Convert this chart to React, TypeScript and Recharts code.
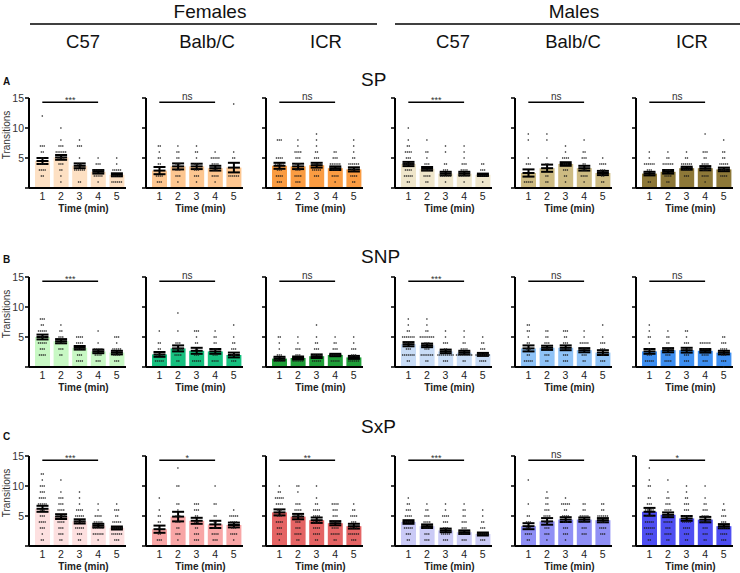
import React from 'react';
import { ComposedChart, Bar, ErrorBar, Scatter, XAxis, YAxis, ReferenceLine, Label } from 'recharts';

const timeLabels = ['1', '2', '3', '4', '5'];
const sexLabels = ['Females', 'Males'];
const strainLabels = ['C57', 'Balb/C', 'ICR'];
const behaviourLabels = ['SP', 'SNP', 'SxP'];
const panelLetters = ['A', 'B', 'C'];
const yTicks = [0, 5, 10, 15];
const sigLevel = 14.3;

// panel order: F C57, F Balb/C, F ICR, M C57, M Balb/C, M ICR
const spColors = ['#FDE0C3', '#FDC690', '#FA9C42', '#EFE6CB', '#CDBB82', '#8D7838'];
const snpColors = ['#C8F8C4', '#16C07F', '#1F9E38', '#C8DCF6', '#8FC3F7', '#3E8FF1'];
const sxpColors = ['#FDE0E0', '#F8A6A6', '#E46464', '#CACAF6', '#8F8FF5', '#4E4EF2'];

const spSig = ['***', 'ns', 'ns', '***', 'ns', 'ns'];
const snpSig = ['***', 'ns', 'ns', '***', 'ns', 'ns'];
const sxpSig = ['***', '*', '**', '***', 'ns', '*'];

const spMeans = [
  [4.5, 5.1, 3.7, 2.7, 2.2],
  [2.9, 3.6, 3.6, 3.3, 3.4],
  [3.7, 3.6, 3.8, 3.3, 3.1],
  [4.0, 3.2, 2.4, 2.4, 2.2],
  [2.5, 3.3, 4.0, 3.3, 2.5],
  [2.4, 2.7, 3.3, 3.3, 3.1],
];
const spSem = [
  [0.5, 0.4, 0.4, 0.3, 0.25],
  [0.6, 0.5, 0.45, 0.4, 0.8],
  [0.5, 0.45, 0.4, 0.3, 0.35],
  [0.35, 0.3, 0.3, 0.3, 0.2],
  [0.6, 0.6, 0.3, 0.4, 0.35],
  [0.3, 0.3, 0.25, 0.35, 0.3],
];
const snpMeans = [
  [5.0, 4.3, 3.2, 2.6, 2.4],
  [2.1, 3.1, 2.7, 2.6, 2.0],
  [1.4, 1.5, 1.8, 2.0, 1.6],
  [3.8, 3.6, 2.6, 2.4, 2.1],
  [3.1, 3.2, 3.2, 2.8, 2.4],
  [2.6, 2.8, 2.8, 2.7, 2.4],
];
const snpSem = [
  [0.4, 0.35, 0.3, 0.3, 0.3],
  [0.4, 0.5, 0.5, 0.4, 0.4],
  [0.3, 0.25, 0.3, 0.2, 0.25],
  [0.35, 0.3, 0.3, 0.3, 0.25],
  [0.5, 0.35, 0.4, 0.35, 0.4],
  [0.4, 0.35, 0.4, 0.3, 0.3],
];
const sxpMeans = [
  [6.2, 4.9, 4.1, 3.4, 3.0],
  [2.8, 4.9, 4.2, 3.6, 3.5],
  [5.6, 4.9, 4.3, 3.8, 3.3],
  [4.0, 3.3, 2.6, 2.3, 2.0],
  [3.3, 4.1, 4.4, 4.4, 4.3],
  [5.7, 5.2, 4.6, 4.4, 3.3],
];
const sxpSem = [
  [0.5, 0.4, 0.35, 0.3, 0.25],
  [0.6, 0.8, 0.5, 0.6, 0.4],
  [0.5, 0.45, 0.45, 0.35, 0.4],
  [0.3, 0.3, 0.3, 0.3, 0.25],
  [0.5, 0.55, 0.4, 0.35, 0.35],
  [0.65, 0.4, 0.4, 0.45, 0.35],
];

// individual animals: per panel, per minute, [value, number of animals]
const spDots = [
  [
    [[12, 1], [7, 3], [6, 2], [5, 2], [4, 4], [3, 4], [2, 2]],
    [[10, 1], [8, 1], [7, 3], [6, 6], [5, 4], [4, 3], [3, 2], [2, 1], [1, 1]],
    [[8, 1], [7, 3], [5, 1], [4, 3], [3, 6], [1, 2]],
    [[5, 1], [4, 3], [3, 6], [2, 5], [1, 1]],
    [[5, 1], [4, 1], [3, 5], [2, 5], [1, 6]],
  ],
  [
    [[7, 2], [6, 1], [5, 2], [4, 2], [2, 4], [1, 3]],
    [[7, 1], [6, 2], [5, 2], [4, 3], [3, 3], [2, 3], [1, 1]],
    [[7, 1], [6, 2], [5, 1], [4, 3], [3, 3], [2, 3], [1, 1]],
    [[6, 1], [5, 5], [4, 4], [3, 3], [2, 4], [1, 1]],
    [[14, 1], [6, 1], [5, 2], [2, 6]],
  ],
  [
    [[8, 3], [5, 4], [4, 5], [3, 3], [2, 4], [1, 3]],
    [[8, 1], [7, 1], [6, 4], [5, 3], [4, 3], [3, 3], [2, 4], [1, 3]],
    [[9, 1], [8, 1], [7, 1], [6, 2], [5, 3], [4, 5], [3, 5], [2, 3]],
    [[6, 2], [5, 3], [4, 6], [3, 4], [2, 4], [1, 1]],
    [[8, 1], [7, 1], [6, 1], [5, 2], [4, 6], [3, 3], [2, 4], [1, 2]],
  ],
  [
    [[10, 1], [8, 1], [7, 2], [6, 4], [5, 3], [4, 6], [3, 4], [2, 5], [1, 2]],
    [[8, 1], [6, 2], [5, 1], [4, 3], [3, 5], [2, 4], [1, 2]],
    [[7, 1], [6, 1], [4, 2], [3, 3], [2, 6], [1, 1]],
    [[7, 1], [6, 1], [5, 1], [4, 3], [3, 4], [2, 6], [1, 1]],
    [[4, 2], [3, 3], [2, 6], [1, 1]],
  ],
  [
    [[9, 1], [8, 1], [5, 1], [4, 3], [1, 5]],
    [[9, 1], [8, 1], [5, 1], [4, 2], [2, 2], [1, 2]],
    [[7, 1], [6, 1], [5, 4], [4, 3], [3, 3], [2, 2], [1, 1]],
    [[8, 1], [6, 2], [5, 3], [4, 2], [3, 3], [2, 4], [1, 1]],
    [[5, 1], [4, 4], [3, 3], [2, 2], [1, 2]],
  ],
  [
    [[6, 1], [5, 1], [4, 6], [3, 3], [1, 2]],
    [[6, 1], [5, 2], [4, 6], [3, 3], [2, 4], [1, 2]],
    [[6, 1], [5, 2], [4, 6], [3, 4], [2, 3]],
    [[9, 1], [6, 3], [5, 2], [4, 4], [3, 3], [2, 4], [1, 1]],
    [[8, 1], [6, 2], [5, 2], [4, 5], [3, 3], [2, 4]],
  ],
];
const snpDots = [
  [
    [[8, 3], [7, 2], [6, 5], [5, 3], [4, 5], [3, 3], [2, 4]],
    [[7, 1], [6, 2], [5, 3], [4, 4], [3, 3], [2, 2]],
    [[5, 4], [4, 4], [3, 6], [2, 3], [1, 4]],
    [[6, 1], [4, 1], [3, 5], [2, 4], [1, 3]],
    [[5, 3], [4, 1], [3, 5], [2, 4], [1, 3]],
  ],
  [
    [[6, 1], [4, 2], [3, 2], [2, 4], [1, 5]],
    [[9, 1], [6, 1], [4, 3], [3, 6], [2, 4], [1, 2]],
    [[6, 3], [5, 1], [4, 2], [3, 2], [2, 3], [1, 5]],
    [[6, 1], [5, 2], [4, 2], [3, 3], [2, 3], [1, 4]],
    [[7, 1], [5, 1], [4, 2], [3, 3], [2, 3], [1, 3]],
  ],
  [
    [[5, 2], [4, 1], [3, 1], [2, 3], [1, 6]],
    [[5, 1], [4, 1], [3, 3], [2, 3], [1, 6]],
    [[7, 1], [5, 1], [4, 2], [3, 3], [2, 4], [1, 5]],
    [[5, 1], [4, 2], [3, 3], [2, 5], [1, 5]],
    [[5, 1], [4, 1], [3, 3], [2, 3], [1, 6]],
  ],
  [
    [[8, 1], [7, 1], [6, 2], [5, 7], [4, 4], [3, 3], [2, 7], [1, 2]],
    [[8, 1], [7, 1], [6, 2], [5, 8], [4, 3], [3, 3], [2, 7], [1, 2]],
    [[6, 1], [5, 1], [4, 3], [3, 2], [2, 9], [1, 3]],
    [[6, 1], [5, 1], [4, 2], [3, 4], [2, 9], [1, 2]],
    [[5, 1], [4, 2], [3, 3], [2, 8], [1, 4]],
  ],
  [
    [[7, 2], [6, 2], [5, 1], [4, 2], [3, 3], [2, 2], [1, 5]],
    [[6, 2], [5, 2], [4, 3], [3, 4], [2, 3], [1, 2]],
    [[6, 3], [5, 2], [4, 3], [3, 4], [2, 3], [1, 3]],
    [[6, 1], [5, 1], [4, 5], [3, 3], [2, 3], [1, 2]],
    [[7, 1], [5, 1], [4, 3], [3, 3], [2, 2], [1, 3]],
  ],
  [
    [[7, 1], [6, 1], [5, 2], [4, 1], [3, 2], [2, 3], [1, 5]],
    [[6, 1], [5, 2], [4, 2], [3, 5], [2, 3], [1, 4]],
    [[6, 2], [5, 1], [4, 3], [3, 4], [2, 3], [1, 3]],
    [[4, 6], [3, 4], [2, 4], [1, 3]],
    [[5, 2], [4, 3], [3, 4], [2, 3], [1, 3], [0, 1]],
  ],
];
const sxpDots = [
  [
    [[12, 2], [11, 1], [10, 3], [9, 3], [8, 4], [7, 5], [6, 3], [5, 3], [4, 4], [3, 3], [2, 1], [1, 2]],
    [[11, 1], [9, 1], [8, 3], [7, 3], [6, 4], [5, 5], [4, 4], [3, 3], [2, 3], [1, 2]],
    [[9, 1], [8, 1], [7, 1], [6, 4], [5, 5], [4, 6], [3, 5], [2, 3], [1, 2]],
    [[7, 1], [6, 1], [5, 4], [4, 5], [3, 6], [2, 6], [1, 1]],
    [[7, 1], [6, 3], [5, 2], [4, 5], [3, 6], [2, 6], [1, 3]],
  ],
  [
    [[8, 1], [6, 1], [5, 2], [4, 2], [3, 1], [2, 2], [1, 3]],
    [[13, 1], [10, 2], [7, 2], [6, 1], [5, 3], [4, 3], [3, 2], [2, 3], [1, 1]],
    [[7, 3], [6, 3], [5, 2], [4, 3], [3, 2], [2, 3], [1, 3]],
    [[10, 1], [7, 2], [5, 2], [4, 2], [3, 3], [2, 4], [1, 3]],
    [[6, 1], [5, 5], [4, 4], [3, 3], [2, 4], [1, 1]],
  ],
  [
    [[10, 1], [9, 2], [8, 5], [7, 4], [6, 3], [5, 3], [4, 4], [3, 3], [2, 3], [1, 1]],
    [[10, 2], [9, 1], [7, 3], [6, 4], [5, 5], [4, 3], [3, 3], [2, 4], [1, 2]],
    [[10, 1], [8, 1], [7, 2], [6, 4], [5, 4], [4, 4], [3, 4], [2, 4], [1, 2]],
    [[7, 4], [6, 3], [5, 3], [4, 4], [3, 4], [2, 5], [1, 2]],
    [[7, 1], [6, 2], [5, 4], [4, 3], [3, 4], [2, 6], [1, 3]],
  ],
  [
    [[8, 1], [7, 2], [6, 3], [5, 4], [4, 4], [3, 5], [2, 3], [1, 2]],
    [[7, 1], [6, 2], [5, 3], [4, 4], [3, 4], [2, 3], [1, 3]],
    [[7, 1], [6, 1], [5, 4], [4, 3], [3, 3], [2, 5], [1, 3]],
    [[7, 1], [6, 2], [5, 2], [4, 3], [3, 3], [2, 5], [1, 3]],
    [[6, 1], [5, 1], [4, 2], [3, 3], [2, 6], [1, 3]],
  ],
  [
    [[11, 1], [7, 1], [5, 2], [4, 3], [3, 3], [2, 4], [1, 2]],
    [[9, 1], [8, 2], [7, 2], [6, 3], [5, 4], [4, 3], [3, 3], [2, 3], [1, 1]],
    [[8, 1], [7, 5], [6, 2], [5, 4], [4, 3], [3, 3], [2, 3], [1, 1]],
    [[7, 2], [6, 2], [5, 5], [4, 5], [3, 3], [2, 3]],
    [[7, 2], [6, 2], [5, 6], [4, 3], [3, 4], [2, 3]],
  ],
  [
    [[13, 1], [11, 1], [10, 2], [8, 2], [7, 3], [6, 5], [5, 4], [4, 5], [3, 6], [2, 4], [1, 2]],
    [[11, 1], [9, 1], [8, 2], [7, 3], [6, 4], [5, 3], [4, 5], [3, 3], [2, 4], [1, 2]],
    [[10, 1], [9, 1], [8, 2], [7, 3], [6, 3], [5, 4], [4, 5], [3, 4], [2, 3], [1, 2]],
    [[10, 1], [8, 1], [7, 2], [6, 3], [5, 4], [4, 5], [3, 3], [2, 3], [1, 2]],
    [[7, 1], [6, 2], [5, 3], [4, 3], [3, 5], [2, 4], [1, 3]],
  ],
];

const rows = [
  { means: spMeans, sems: spSem, dots: spDots, colors: spColors, sig: spSig },
  { means: snpMeans, sems: snpSem, dots: snpDots, colors: snpColors, sig: snpSig },
  { means: sxpMeans, sems: sxpSem, dots: sxpDots, colors: sxpColors, sig: sxpSig },
];

// layout
const AXIS_X = [29, 146, 266, 395, 515, 636];
const ROW_TOP = [98, 277, 456];
const PLOT_W = 97;
const PLOT_H = 90;
const Y_W = 30;
const M_TOP = 12;
const X_H = 26;
const FONT = '"Liberation Sans", Arial, Helvetica, sans-serif';

const BarWithMean = (p: any) => {
  const { x, y, width, height, fill } = p;
  const cx = x + width / 2;
  return (
    <g>
      <rect x={x} y={y} width={width} height={height} fill={fill} />
      <line x1={cx - 6} x2={cx + 6} y1={y} y2={y} stroke="#000" strokeWidth={2} />
    </g>
  );
};

const DotShape = (p: any) => {
  if (p.cx == null || p.cy == null) return null;
  return <circle cx={p.cx + (p.payload?.dx || 0)} cy={p.cy} r={0.8} fill="#1a1a1a" />;
};

function Panel({ row, col }: { row: number; col: number }) {
  const r = rows[row];
  const data = timeLabels.map((t, i) => ({ t, mean: r.means[col][i], sem: r.sems[col][i] }));
  const dotData: { t: string; v: number; dx: number }[] = [];
  timeLabels.forEach((t, i) => {
    r.dots[col][i].forEach(([v, n]) => {
      for (let k = 0; k < n; k++) dotData.push({ t, v, dx: (k - (n - 1) / 2) * 1.9 });
    });
  });
  const sig = r.sig[col];
  const isStar = sig.indexOf('*') >= 0;
  return (
    <div style={{ position: 'absolute', left: AXIS_X[col] - Y_W, top: ROW_TOP[row] - M_TOP }}>
      <ComposedChart
        width={Y_W + PLOT_W + 4}
        height={M_TOP + PLOT_H + X_H}
        data={data}
        margin={{ top: M_TOP, right: 4, bottom: 0, left: 0 }}
        style={{ overflow: 'visible' }}
      >
        <XAxis
          dataKey="t"
          type="category"
          allowDuplicatedCategory={false}
          padding={{ left: 4, right: 0 }}
          height={X_H}
          tickLine={false}
          tickSize={3}
          tickMargin={2}
          axisLine={{ stroke: '#000', strokeWidth: 2 }}
          tick={{ fontSize: 10.5, fill: '#222', fontFamily: FONT }}
          interval={0}
        >
          <Label
            value="Time (min)"
            position="insideBottom"
            offset={2.5}
            dx={6}
            style={{ fontSize: 10, fontWeight: 'bold', fill: '#222', fontFamily: FONT }}
          />
        </XAxis>
        <YAxis
          type="number"
          domain={[0, 15]}
          ticks={yTicks}
          interval={0}
          width={Y_W}
          tickSize={4}
          tickMargin={1}
          axisLine={{ stroke: '#000', strokeWidth: 2 }}
          tickLine={{ stroke: '#000', strokeWidth: 1.5 }}
          tick={{ fontSize: 10.5, fill: '#333', fontFamily: FONT }}
          tickFormatter={(v: number) => (col === 0 && v > 0 ? String(v) : '')}
        >
          {col === 0 ? (
            <Label
              value="Transitions"
              angle={-90}
              position="insideLeft"
              offset={7}
              dy={-8}
              style={{ textAnchor: 'middle', fontSize: 10, fill: '#333', fontFamily: FONT }}
            />
          ) : null}
        </YAxis>
        <Bar dataKey="mean" fill={r.colors[col]} barSize={15} isAnimationActive={false} shape={BarWithMean}>
          <ErrorBar dataKey="sem" width={6} strokeWidth={2} stroke="#000" direction="y" isAnimationActive={false} />
        </Bar>
        <Scatter data={dotData} dataKey="v" shape={DotShape} isAnimationActive={false} />
        <ReferenceLine
          segment={[{ x: '1', y: sigLevel }, { x: '4', y: sigLevel }]}
          stroke="#000"
          strokeWidth={1.6}
          ifOverflow="visible"
        >
          <Label
            value={sig}
            position="top"
            offset={isStar ? -1 : 2}
            style={{ fontSize: isStar ? 9 : 10, fill: '#333', fontFamily: FONT }}
          />
        </ReferenceLine>
      </ComposedChart>
    </div>
  );
}

const colCenters = [83, 207, 326, 453, 573, 692];
const rowLabelBaseline = [86, 263, 433];
const letterBaseline = [85, 263, 440];

export default function App() {
  return (
    <div
      style={{
        position: 'absolute',
        left: 0,
        top: 0,
        width: 740,
        height: 573,
        background: '#fff',
        fontFamily: FONT,
        overflow: 'hidden',
      }}
    >
      <svg width={740} height={573} style={{ position: 'absolute', left: 0, top: 0 }}>
        <text x={210} y={18} textAnchor="middle" fontSize={19} fill="#111" fontFamily={FONT}>
          {sexLabels[0]}
        </text>
        <text x={574} y={18} textAnchor="middle" fontSize={19} fill="#111" fontFamily={FONT}>
          {sexLabels[1]}
        </text>
        <line x1={30} x2={377} y1={24} y2={24} stroke="#000" strokeWidth={1.5} />
        <line x1={395} x2={740} y1={24} y2={24} stroke="#000" strokeWidth={1.5} />
        {colCenters.map((cx, i) => (
          <text key={i} x={cx} y={48} textAnchor="middle" fontSize={18.5} fill="#111" fontFamily={FONT}>
            {strainLabels[i % 3]}
          </text>
        ))}
        {behaviourLabels.map((b, i) => (
          <text key={b} x={361} y={rowLabelBaseline[i]} fontSize={19} fill="#111" fontFamily={FONT}>
            {b}
          </text>
        ))}
        {panelLetters.map((l, i) => (
          <text key={l} x={3} y={letterBaseline[i]} fontSize={10} fontWeight="bold" fill="#111" fontFamily={FONT}>
            {l}
          </text>
        ))}
      </svg>
      {rows.map((_, ri) => AXIS_X.map((__, ci) => <Panel key={`${ri}-${ci}`} row={ri} col={ci} />))}
    </div>
  );
}
